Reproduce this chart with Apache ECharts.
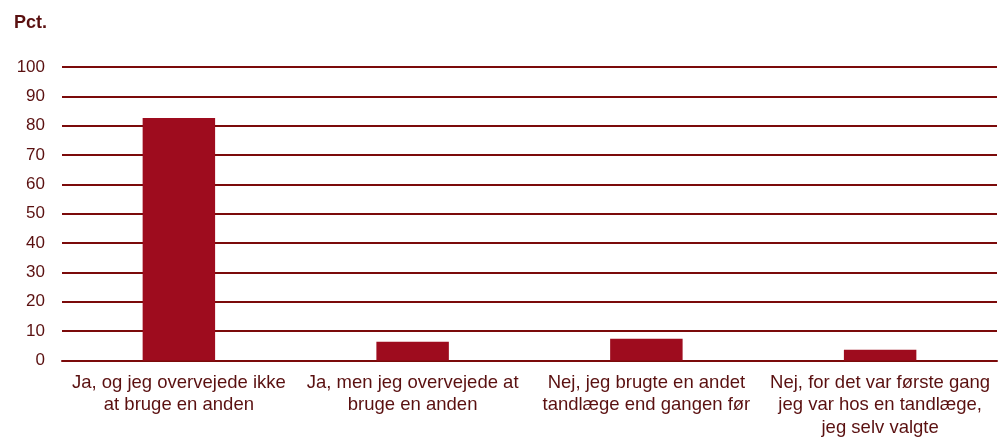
<!DOCTYPE html>
<html>
<head>
<meta charset="utf-8">
<script src="https://cdn.jsdelivr.net/npm/echarts@6/dist/echarts.min.js"></script>
<style>
  html, body { margin: 0; padding: 0; background: #fff; }
  #chart { width: 998px; height: 439px; }
</style>
</head>
<body>
<div id="chart"></div>
<script>
var categories = [
  'Ja, og jeg overvejede ikke\nat bruge en anden',
  'Ja, men jeg overvejede at\nbruge en anden',
  'Nej, jeg brugte en andet\ntandlæge end gangen før',
  'Nej, for det var første gang\njeg var hos en tandlæge,\njeg selv valgte'
];
var values = [82.6, 6.4, 7.4, 3.7];
var yTicks = [0, 10, 20, 30, 40, 50, 60, 70, 80, 90, 100];

var textColor = '#5a1010';
var lineColor = '#7b0a0a';

var chart = echarts.init(document.getElementById('chart'));
chart.setOption({
  animation: false,
  backgroundColor: '#fff',
  textStyle: { fontFamily: 'Liberation Sans, Arial, sans-serif' },
  title: {
    text: 'Pct.',
    left: 9,
    top: 9,
    textStyle: { color: textColor, fontSize: 18, fontWeight: 'bold', fontFamily: 'Liberation Sans, Arial, sans-serif' }
  },
  grid: { left: 62, right: 1, top: 67, bottom: 78, containLabel: false },
  xAxis: {
    type: 'category',
    data: categories,
    axisLine: { lineStyle: { color: lineColor, width: 2 } },
    axisTick: { show: false },
    axisLabel: {
      color: textColor,
      fontSize: 18.5,
      lineHeight: 22.5,
      margin: 11,
      interval: 0,
      align: 'center'
    }
  },
  yAxis: {
    type: 'value',
    min: yTicks[0],
    max: yTicks[yTicks.length - 1],
    interval: 10,
    axisLine: { show: false },
    axisTick: { show: false },
    axisLabel: { color: textColor, fontSize: 17, margin: 17 },
    splitLine: { lineStyle: { color: lineColor, width: 2 } }
  },
  series: [
    {
      type: 'bar',
      data: values,
      barWidth: '31%',
      itemStyle: { color: '#9e0c1e' }
    }
  ]
});
</script>
</body>
</html>
